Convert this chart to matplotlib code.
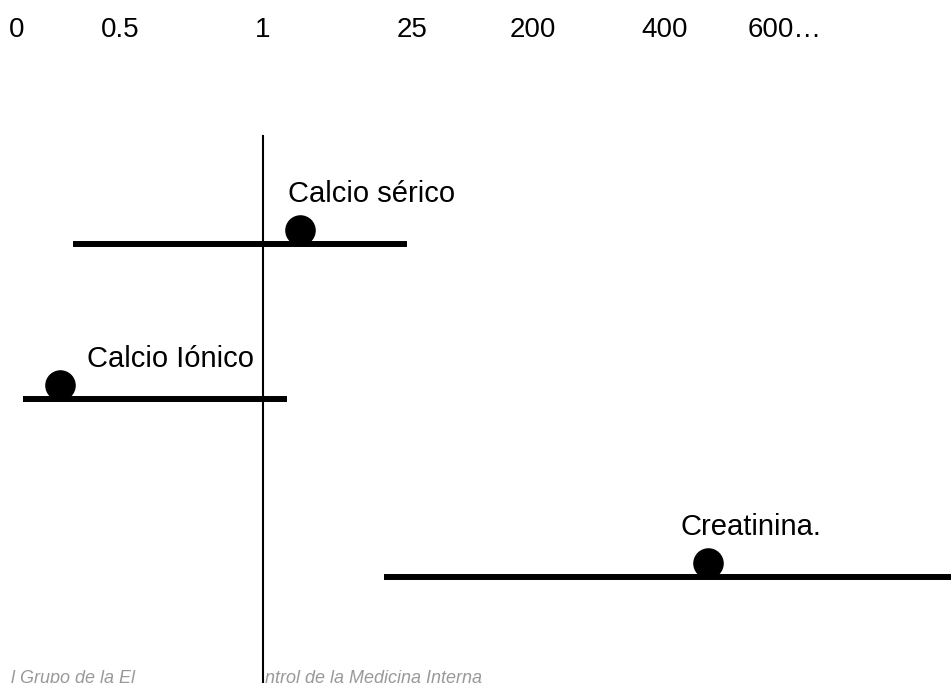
import numpy as np
import matplotlib
matplotlib.use("Agg")
import matplotlib.pyplot as plt
from matplotlib.scale import FuncScale
from matplotlib.transforms import offset_copy

plt.rcParams['font.family'] = ['Liberation Sans', 'DejaVu Sans']

# Data
categories = ["Calcio sérico", "Calcio Iónico", "Creatinina."]
estimates = [6.9, 0.21, 482.0]
ci_low = [0.27, 0.03, 20.5]
ci_high = [24.2, 4.9, 945.0]
tick_values = [0, 0.5, 1, 25, 200, 400, 600]
tick_labels = ["0", "0.5", "1", "25", "200", "400", "600…"]
reference_value = 1

# Custom (piecewise) axis scale, as drawn on the slide
anchor_vals = np.array([-0.0825, 0, 0.5, 1, 25, 200, 400, 600, 1000])
anchor_pos = np.array([0, 17, 120, 263, 412, 533, 665, 770, 980])

def fwd(v):
    return np.interp(v, anchor_vals, anchor_pos)

def inv(p):
    return np.interp(p, anchor_pos, anchor_vals)

row_y = [244, 399, 577]
label_offsets = [(-12, -50), (27, -40), (-28, -50)]

PT = 0.72  # points per pixel at dpi 100

fig = plt.figure(figsize=(9.51, 6.83), dpi=100)
ax = fig.add_axes([0, 0, 1, 1])
ax.set_xscale(FuncScale(ax, (fwd, inv)))
ax.set_xlim(inv(0), inv(951))
ax.set_ylim(683, 0)
ax.axis('off')

# reference line
ax.plot([reference_value, reference_value], [136, 683], color='black', lw=1.5)

for cat, est, lo, hi, y, (dx, dy) in zip(categories, estimates, ci_low, ci_high, row_y, label_offsets):
    ax.plot([lo, hi], [y, y], color='black', lw=4.3, solid_capstyle='butt')
    ax.plot([est], [y - 14], 'o', color='black', markersize=21)
    t = offset_copy(ax.transData, fig=fig, x=dx * PT, y=-dy * PT, units='points')
    ax.text(est, y, cat, transform=t, fontsize=21, ha='left', va='center')

for v, lab in zip(tick_values, tick_labels):
    if lab.endswith('…'):
        t = offset_copy(ax.transData, fig=fig, x=-22 * PT, y=0, units='points')
        ax.text(v, 30, lab, transform=t, fontsize=20, ha='left', va='center')
    else:
        ax.text(v, 30, lab, fontsize=20, ha='center', va='center')

fig.text(0.012, -0.006, "l Grupo de la El                          ntrol de la Medicina Interna",
         fontsize=13, color='#999999', style='italic', ha='left', va='bottom')

fig.savefig("out.png", dpi=100)
